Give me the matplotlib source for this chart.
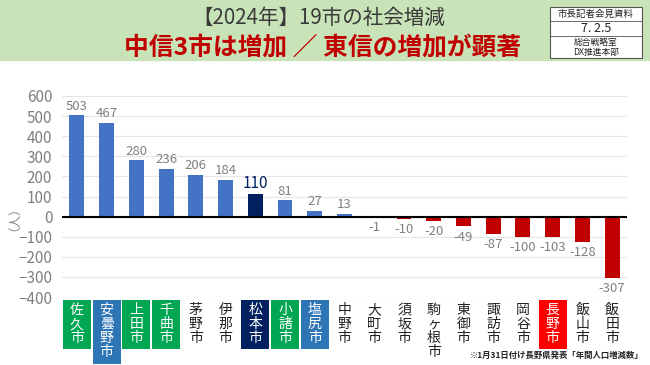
import matplotlib
matplotlib.use('Agg')
import matplotlib.pyplot as plt
from matplotlib.patches import Rectangle
import matplotlib.transforms as mtransforms

plt.rcParams['font.family'] = ['Noto Sans CJK JP', 'DejaVu Sans']

cities = ['佐久市', '安曇野市', '上田市', '千曲市', '茅野市', '伊那市', '松本市', '小諸市', '塩尻市',
          '中野市', '大町市', '須坂市', '駒ヶ根市', '東御市', '諏訪市', '岡谷市', '長野市', '飯山市', '飯田市']
values = [503, 467, 280, 236, 206, 184, 110, 81, 27, 13, -1, -10, -20, -49, -87, -100, -103, -128, -307]
# label box colour per city (None = no box)
box_colors = ['#00a651', '#2e75b6', '#00a651', '#00a651', None, None, '#002060', '#00a651', '#2e75b6',
              None, None, None, None, None, None, None, '#ff0000', None, None]
yticks = [-400, -300, -200, -100, 0, 100, 200, 300, 400, 500, 600]

fig = plt.figure(figsize=(6.5, 3.65), dpi=100)
fig.patches.append(Rectangle((0, 305 / 365), 1, 60 / 365, transform=fig.transFigure,
                             color='#c9e3b8', zorder=0))

fig.text(0.49, 1 - 18 / 365, '【2024年】19市の社会増減', ha='center', va='center',
         fontsize=14.8, color='#3a3a3a')
fig.text(0.497, 1 - 47 / 365, '中信3市は増加 ／ 東信の増加が顕著', ha='center', va='center',
         fontsize=17.8, color='#c00000', fontweight='bold')

# stamp box at top right
bx0, bx1 = 550 / 650, 642 / 650
fig.patches.append(Rectangle((bx0, 1 - 58 / 365), bx1 - bx0, 51 / 365, transform=fig.transFigure,
                             facecolor='white', edgecolor='#555555', lw=0.8, zorder=1))
for yy in [21, 36]:
    fig.add_artist(plt.Line2D([bx0, bx1], [1 - yy / 365, 1 - yy / 365], transform=fig.transFigure,
                              color='#555555', lw=0.6))
bxc = (bx0 + bx1) / 2
fig.text(bxc, 1 - 14 / 365, '市長記者会見資料', ha='center', va='center', fontsize=6.8, color='#222222')
fig.text(bxc, 1 - 28.5 / 365, '7. 2.5', ha='center', va='center', fontsize=9, color='#222222')
fig.text(bxc, 1 - 42 / 365, '総合戦略室', ha='center', va='center', fontsize=6.3, color='#222222')
fig.text(bxc, 1 - 52 / 365, 'DX推進本部', ha='center', va='center', fontsize=6.3, color='#222222')

ax = fig.add_axes([62 / 650, 68 / 365, 565 / 650, 201 / 365])
x = list(range(len(cities)))
colors = []
for c, v in zip(cities, values):
    if c == '松本市':
        colors.append('#002060')
    elif v > 0:
        colors.append('#4472c4')
    else:
        colors.append('#c00000')
ax.bar(x, values, width=0.5, color=colors, zorder=2)

ax.set_xlim(-0.5, len(cities) - 0.5)
ax.set_ylim(-400, 600)
ax.set_yticks(yticks)
ax.tick_params(axis='y', length=0, labelsize=11, labelcolor='#808080', pad=7)
ax.set_xticks([])
for s in ax.spines.values():
    s.set_visible(False)
ax.grid(axis='y', color='#e6e6e6', lw=0.8, zorder=0)
ax.axhline(0, color='black', lw=1.5, zorder=3)
ax.set_ylabel('（人）', fontsize=9, color='#808080', labelpad=2)
ax.yaxis.set_label_coords(-0.085, 0.42)

for xi, v, c in zip(x, values, cities):
    if c == '松本市':
        ax.annotate(str(v), (xi, v), xytext=(0, 2), textcoords='offset points',
                    ha='center', va='bottom', fontsize=11, color='#002060')
    elif v >= 0:
        ax.annotate(str(v), (xi, v), xytext=(0, 2), textcoords='offset points',
                    ha='center', va='bottom', fontsize=9.5, color='#808080')
    else:
        ax.annotate(str(v), (xi, v), xytext=(0, -3), textcoords='offset points',
                    ha='center', va='top', fontsize=9.5, color='#808080')

trans = mtransforms.blended_transform_factory(ax.transData, ax.transAxes)
px = 1 / 201  # one pixel in axes height units
for xi, c, bc in zip(x, cities, box_colors):
    label = '\n'.join(c)
    if bc is not None:
        h = (15 * len(c) + 4) * px
        ax.add_patch(Rectangle((xi - 0.47, -3 * px - h), 0.94, h, transform=trans,
                               facecolor=bc, edgecolor='none', clip_on=False))
    ax.text(xi, -6 * px, label, transform=trans, ha='center', va='top', fontsize=10,
            color='white' if bc else '#222222', linespacing=1.0)

fig.text(0.99, 0.025, '※1月31日付け長野県発表「年間人口増減数」', ha='right', va='center',
         fontsize=6, color='#222222', fontweight='bold')

fig.savefig('out.png', dpi=100)
